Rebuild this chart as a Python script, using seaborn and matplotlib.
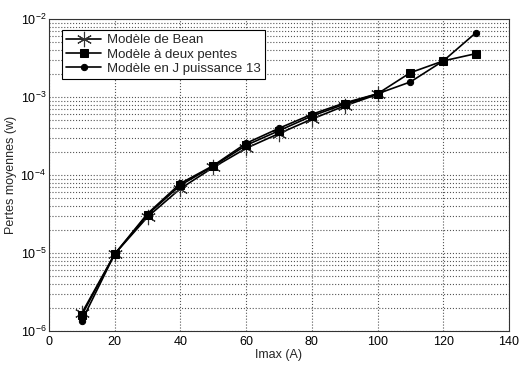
import numpy as np
import pandas as pd
import matplotlib
matplotlib.use('Agg')
import matplotlib.pyplot as plt
import seaborn as sns
from matplotlib.ticker import LogLocator, NullFormatter

# données
imax_bean = [10, 20, 30, 40, 50, 60, 70, 80, 90, 100]
pertes_bean = [1.7e-6, 9.7e-6, 2.9e-5, 6.7e-5, 1.25e-4, 2.2e-4, 3.4e-4, 5.2e-4, 7.7e-4, 1.08e-3]

imax = [10, 20, 30, 40, 50, 60, 70, 80, 90, 100, 110, 120, 130]
pertes_deux_pentes = [1.6e-6, 9.7e-6, 3.1e-5, 7.4e-5, 1.3e-4, 2.4e-4, 3.7e-4, 5.7e-4, 8.1e-4, 1.1e-3, 2.05e-3, 2.9e-3, 3.6e-3]
pertes_j13 = [1.35e-6, 9.7e-6, 3.2e-5, 7.8e-5, 1.32e-4, 2.55e-4, 3.97e-4, 6.0e-4, 8.4e-4, 1.1e-3, 1.56e-3, 2.9e-3, 6.7e-3]

sns.set_style('white')
plt.rcParams['font.family'] = ['Liberation Sans', 'DejaVu Sans']
plt.rcParams['font.size'] = 9

fig = plt.figure(figsize=(5.28, 3.65), dpi=100)
ax = fig.add_axes([0.0928, 0.0932, 0.8712, 0.8548])

sns.lineplot(x=imax_bean, y=pertes_bean, ax=ax, color='black', lw=1.2,
             marker=(6, 2, 0), markersize=11, markeredgewidth=0.8,
             markeredgecolor='#333333', label='Modèle de Bean')
sns.lineplot(x=imax, y=pertes_deux_pentes, ax=ax, color='black', lw=1.2,
             marker='s', markersize=5.5, markeredgecolor='black',
             label='Modèle à deux pentes')
sns.lineplot(x=imax, y=pertes_j13, ax=ax, color='black', lw=1.2,
             marker='o', markersize=4.5, markeredgecolor='black',
             label='Modèle en J puissance 13')

ax.set_yscale('log')
ax.set_xlim(0, 140)
ax.set_ylim(1e-6, 1e-2)
ax.set_xticks(range(0, 141, 20))
ax.yaxis.set_major_locator(LogLocator(base=10))
ax.yaxis.set_minor_locator(LogLocator(base=10, subs=np.arange(2, 10)))
ax.yaxis.set_minor_formatter(NullFormatter())

ax.grid(True, which='major', axis='both', color='#555555', linestyle=':', lw=0.8)
ax.grid(True, which='minor', axis='y', color='#555555', linestyle=':', lw=0.8)

for s in ax.spines.values():
    s.set_color('#333333')
    s.set_linewidth(0.8)
ax.tick_params(axis='both', which='both', direction='in', length=3, colors='#333333', labelcolor='black')
ax.tick_params(axis='y', which='both', pad=2)
ax.tick_params(axis='y', which='minor', length=2)

ax.set_xlabel('Imax (A)', labelpad=1)
ax.set_ylabel('Pertes moyennes (w)')
ax.yaxis.set_label_coords(-0.07, 0.5)

leg = ax.legend(loc='upper left', bbox_to_anchor=(0.015, 0.985), fancybox=False,
                framealpha=1, edgecolor='black', borderpad=0.3, labelspacing=0.15,
                handlelength=2.6, handletextpad=0.5, fontsize=9.5)
leg.get_frame().set_linewidth(0.8)

fig.savefig('out.png', dpi=100, facecolor='white')
